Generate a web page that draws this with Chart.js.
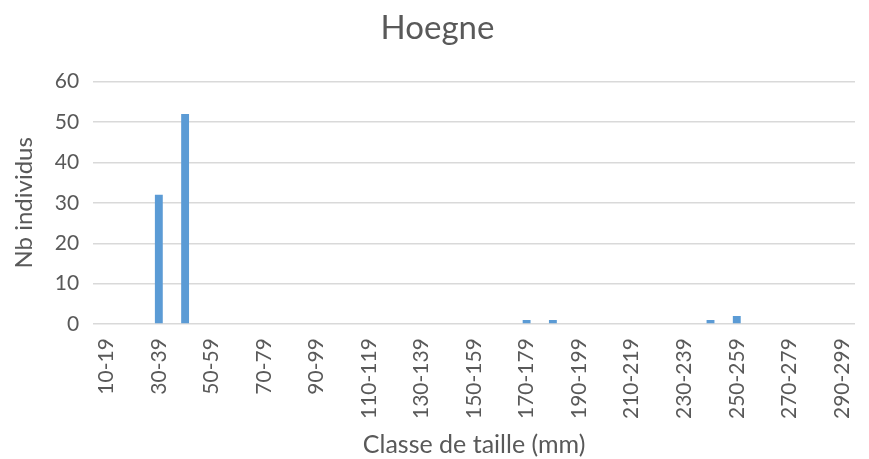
<!DOCTYPE html>
<html><head><meta charset="utf-8">
<script src="https://cdn.jsdelivr.net/npm/chart.js@4/dist/chart.umd.min.js"></script>
<style>html,body{margin:0;padding:0;background:#fff;}</style>
</head><body>
<canvas id="c" width="869" height="459"></canvas>
<script>
const categories = ["10-19","20-29","30-39","40-49","50-59","60-69","70-79","80-89","90-99","100-109","110-119","120-129","130-139","140-149","150-159","160-169","170-179","180-189","190-199","200-209","210-219","220-229","230-239","240-249","250-259","260-269","270-279","280-289","290-299"];
const counts = [0,0,32,52,0,0,0,0,0,0,0,0,0,0,0,0,1,1,0,0,0,0,0,1,2,0,0,0,0];
const yTicks = [0,10,20,30,40,50,60];
const title = "Hoegne";
const xTitle = "Classe de taille (mm)";
const yTitle = "Nb individus";

const FONT = "Lato";
const grey = "#595959";
new Chart(document.getElementById("c"), {
  type: "bar",
  data: { labels: categories, datasets: [{ data: counts, backgroundColor: "#5b9bd5", barPercentage: 0.3, categoryPercentage: 1 }] },
  options: {
    responsive: false, animation: false,
    layout: { padding: { left: 6, right: 0, top: 9, bottom: 0 } },
    plugins: {
      legend: { display: false }, tooltip: { enabled: false },
      title: { display: true, text: title, color: grey, font: { family: FONT, size: 33, weight: "normal" }, padding: { top: 0, bottom: 33 } }
    },
    scales: {
      x: {
        afterFit: function(s) { s.paddingRight = 14; s.height -= 5; },
        grid: { display: false, drawTicks: false },
        border: { display: false },
        ticks: { color: grey, font: { family: FONT, size: 21 }, autoSkip: false, maxRotation: 90, minRotation: 90, padding: 14,
          callback: function(v, i) { return i % 2 === 0 ? categories[i] : ""; } },
        title: { display: true, text: xTitle, color: grey, font: { family: FONT, size: 25, lineHeight: 1 }, padding: { top: 4, bottom: 2 } }
      },
      y: {
        min: 0, max: 60,
        afterBuildTicks: function(s) { s.ticks = yTicks.map(v => ({ value: v })); },
        grid: { color: "#d9d9d9", lineWidth: 1.5, drawTicks: false },
        border: { display: false },
        ticks: { color: grey, font: { family: FONT, size: 21 }, padding: 14 },
        title: { display: true, text: yTitle, color: grey, font: { family: FONT, size: 24 }, padding: { bottom: 2 } }
      }
    }
  }
});
</script>
</body></html>
